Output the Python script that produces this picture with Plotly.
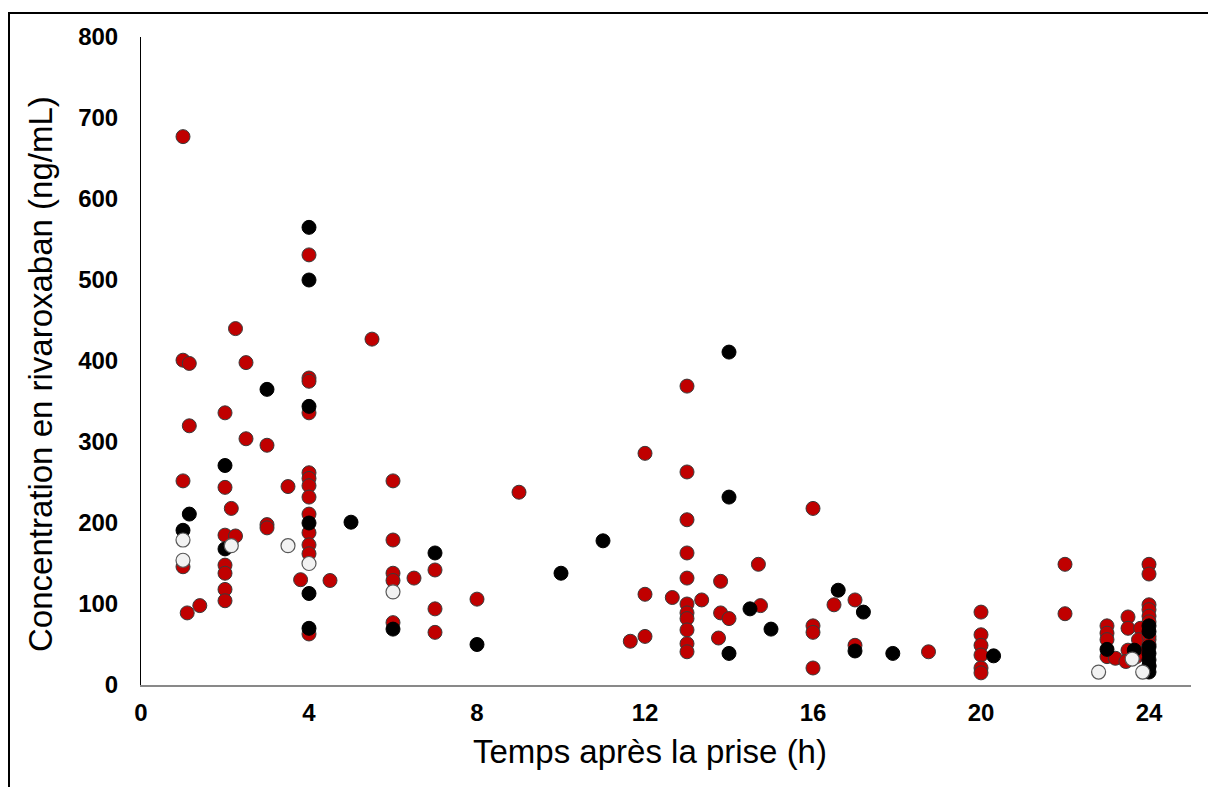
import plotly.graph_objects as go

# Red series (time h, concentration ng/mL)
red_x = [1, 2.25, 4, 1, 1.15, 2.5, 4, 4, 4, 2, 1.15, 2.5, 3, 1, 2, 3.5, 4, 4, 4, 4,
         2.15, 4, 3, 3, 4, 4, 4, 1, 2, 2.25, 2, 2, 2, 2, 1.1, 1.4, 3.8, 4.5, 4,
         5.5, 6, 9, 6, 7, 6, 6, 6.5, 8, 7, 6, 7,
         13, 12, 13, 16, 13, 13, 14.7, 13, 13.8, 12, 12.65, 13.35, 13, 13, 13, 13,
         13.8, 14, 14.75, 16.5, 17, 16, 16, 11.65, 12, 13, 13, 13.75, 16, 17, 18.75,
         20, 20, 20, 20, 20, 20,
         22, 22, 24, 24, 24, 24, 24, 24, 24, 23, 23, 23, 23, 23.2, 23.5, 23.5,
         23.8, 23.75, 23.5, 23.45, 23.7, 23.85, 24, 24, 24]
red_y = [677, 440, 531, 401, 397, 398, 379, 375, 336, 336, 320, 304, 296, 252, 244, 245, 262, 255, 246, 232,
         218, 211, 198, 194, 188, 173, 162, 146, 185, 184, 148, 138, 118, 104, 89, 98, 130, 129, 63,
         427, 252, 238, 179, 142, 138, 129, 132, 106, 94, 77, 65,
         369, 286, 263, 218, 204, 163, 149, 132, 128, 112, 108, 105, 100, 89, 82, 68,
         89, 82, 98, 99, 105, 73, 65, 54, 60, 51, 41, 58, 21, 49, 41,
         90, 62, 49, 37, 21, 15,
         149, 88, 149, 137, 99, 93, 85, 78, 56, 73, 64, 56, 35, 33, 84, 70,
         70, 56, 43, 29, 35, 39, 24, 60, 50]

# Black series
black_x = [4, 4, 3, 4, 2, 1.15, 4, 1, 2, 4, 4, 5, 7, 6, 8, 10, 11, 14, 14, 16.6,
           14.5, 17.2, 15, 14, 17, 17.9, 20.3, 23, 23.65, 24, 24, 24, 24, 24, 24, 24]
black_y = [565, 500, 365, 344, 271, 211, 200, 191, 168, 113, 70, 201, 163, 69, 50, 138, 178, 411, 232, 117,
           94, 90, 69, 39, 42, 39, 36, 44, 43, 73, 66, 47, 39, 31, 23, 16]

# White series
white_x = [1, 1, 2.15, 3.5, 4, 6, 22.8, 23.6, 23.85]
white_y = [179, 154, 172, 172, 150, 115, 16, 32, 16]

x_ticks = [0, 4, 8, 12, 16, 20, 24]
y_ticks = [0, 100, 200, 300, 400, 500, 600, 700, 800]

x_title = "Temps après la prise (h)"
y_title = "Concentration en rivaroxaban (ng/mL)"

fig = go.Figure()
fig.add_trace(go.Scatter(x=red_x, y=red_y, mode="markers", cliponaxis=False,
                         marker=dict(size=14, color="#C00000", line=dict(color="#3A3A3A", width=1))))
fig.add_trace(go.Scatter(x=black_x, y=black_y, mode="markers", cliponaxis=False,
                         marker=dict(size=14, color="#000000", line=dict(color="#000000", width=1))))
fig.add_trace(go.Scatter(x=white_x, y=white_y, mode="markers", cliponaxis=False,
                         marker=dict(size=14, color="#F2F2F2", line=dict(color="#595959", width=1.2))))

tickfont = dict(family="Liberation Sans, Arial, sans-serif", size=24, color="#000000", weight="bold")
titlefont = dict(family="Liberation Sans, Arial, sans-serif", size=33, color="#000000")

# page has an 8px body margin; figure sized to fit the window
W, H = 1208, 779
L, T, PW, PH = 133, 29, 1050, 648

fig.update_layout(
    width=W, height=H,
    margin=dict(l=L, r=W - L - PW, t=T, b=H - T - PH),
    paper_bgcolor="white", plot_bgcolor="white",
    showlegend=False,
    xaxis=dict(range=[0, 25], tickvals=x_ticks, ticktext=[str(v) for v in x_ticks],
               showgrid=False, zeroline=False, showline=True, linecolor="#898989", linewidth=2,
               ticks="", tickfont=tickfont, ticklabelstandoff=5),
    yaxis=dict(range=[0, 800], tickvals=y_ticks, ticktext=[str(v) for v in y_ticks],
               showgrid=False, zeroline=False, showline=True, linecolor="#000000", linewidth=1,
               ticks="", tickfont=tickfont, ticklabelstandoff=17),
    annotations=[
        dict(text=x_title, xref="paper", yref="paper", x=(642 - L) / PW, y=(T + PH - 744) / PH,
             xanchor="center", yanchor="middle", showarrow=False, font=titlefont),
        dict(text=y_title, xref="paper", yref="paper", x=(32 - L) / PW, y=(T + PH - 366) / PH,
             xanchor="center", yanchor="middle", textangle=-90, showarrow=False, font=titlefont),
    ],
    shapes=[dict(type="rect", xref="paper", yref="paper",
                 x0=(1 - L) / PW, x1=(W + 20 - L) / PW,
                 y0=(T + PH - (H + 20)) / PH, y1=(T + PH - 5) / PH,
                 line=dict(color="#000000", width=2), fillcolor="rgba(0,0,0,0)", layer="below")],
)

fig.write_html("out.html")
